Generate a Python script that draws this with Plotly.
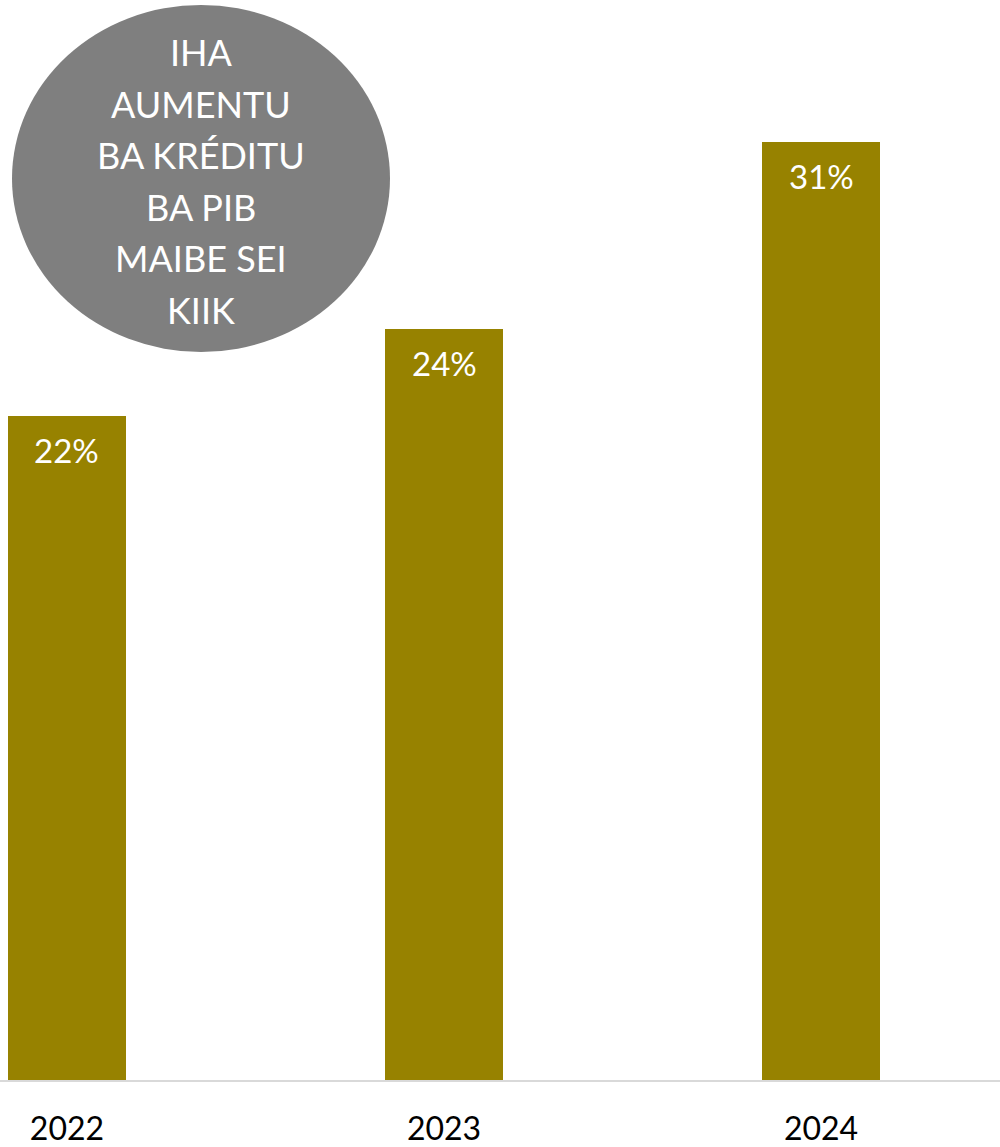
import plotly.graph_objects as go

years = ["2022", "2023", "2024"]
credit_to_gdp = [0.2163, 0.2446, 0.3056]
note_lines = ["IHA", "AUMENTU", "BA KRÉDITU", "BA PIB", "MAIBE SEI", "KIIK"]

BAR_COLOR = "#978200"
FONT = "Lato, Calibri, Carlito, sans-serif"

xpos = list(range(len(years)))

fig = go.Figure()
fig.add_trace(go.Bar(
    x=xpos, y=credit_to_gdp, width=0.313,
    marker=dict(color=BAR_COLOR, line=dict(width=0)),
    hoverinfo="skip", showlegend=False,
))

for x, v in zip(xpos, credit_to_gdp):
    fig.add_annotation(
        x=x, y=v, xref="x", yref="y", text=f"{v:.0%}",
        showarrow=False, yanchor="top", yshift=-12,
        font=dict(family=FONT, size=33, color="white"),
    )

fig.add_shape(
    type="circle", xref="paper", yref="paper",
    x0=0.012, x1=0.390, y0=1 - 352 / 1080, y1=1 - 5 / 1080,
    fillcolor="#7f7f7f", line=dict(width=0), layer="above",
)
line_step = 51.6
first_center = 52
for i, line in enumerate(note_lines):
    fig.add_annotation(
        xref="paper", yref="paper", x=0.201,
        y=1 - (first_center + i * line_step) / 1080,
        text=line, showarrow=False,
        xanchor="center", yanchor="middle",
        font=dict(family=FONT, size=36, color="white"),
    )

fig.update_layout(
    width=1000, height=1147,
    margin=dict(l=0, r=0, t=0, b=67),
    paper_bgcolor="white", plot_bgcolor="white",
    font=dict(family=FONT, size=32, color="black"),
    xaxis=dict(
        range=[-0.1777, 2.4748], tickvals=xpos, ticktext=years,
        showgrid=False, zeroline=False, showline=True,
        linecolor="#d9d9d9", linewidth=2, ticks="",
        ticklabelstandoff=20, fixedrange=True, automargin=False,
    ),
    yaxis=dict(
        range=[0, 0.3518], visible=False, showgrid=False, fixedrange=True,
    ),
    bargap=0,
)

fig.write_html(
    "out.html",
    config={"displayModeBar": False},
    post_script="document.body.style.margin='0';document.body.style.overflow='hidden';",
)
